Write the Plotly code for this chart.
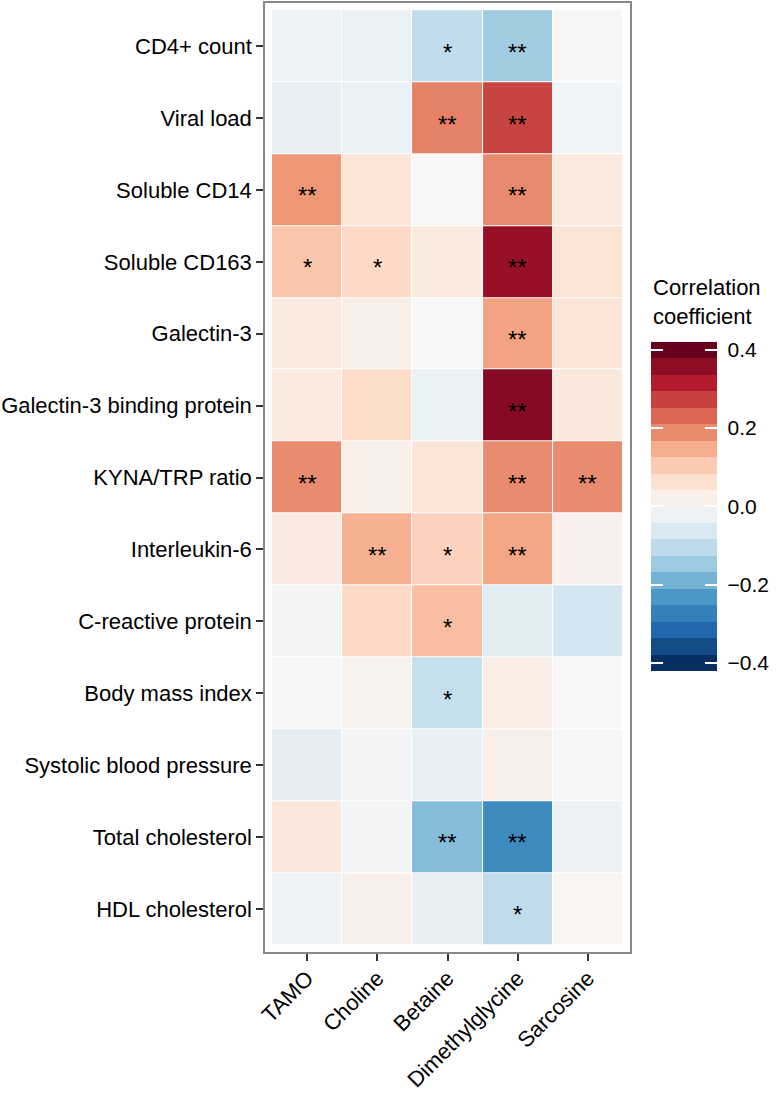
import numpy as np
import plotly.graph_objs as go

metabolites = ["TAMO", "Choline", "Betaine", "Dimethylglycine", "Sarcosine"]
markers = ["CD4+ count", "Viral load", "Soluble CD14", "Soluble CD163", "Galectin-3",
           "Galectin-3 binding protein", "KYNA/TRP ratio", "Interleukin-6",
           "C-reactive protein", "Body mass index", "Systolic blood pressure",
           "Total cholesterol", "HDL cholesterol"]

# correlation coefficients, one list per marker (TAMO, Choline, Betaine, DMG, Sarcosine)
r_cd4 = [-0.020, -0.030, -0.105, -0.148, 0.003]
r_viral = [-0.038, -0.030, 0.212, 0.285, -0.015]
r_scd14 = [0.185, 0.054, 0.000, 0.201, 0.042]
r_scd163 = [0.118, 0.086, 0.042, 0.365, 0.060]
r_gal3 = [0.042, 0.024, 0.000, 0.170, 0.054]
r_gal3bp = [0.042, 0.082, -0.030, 0.385, 0.045]
r_kyna = [0.200, 0.025, 0.054, 0.200, 0.200]
r_il6 = [0.037, 0.149, 0.098, 0.165, 0.020]
r_crp = [-0.012, 0.086, 0.129, -0.049, -0.077]
r_bmi = [-0.005, 0.015, -0.100, 0.030, 0.000]
r_sbp = [-0.045, -0.012, -0.035, 0.025, -0.005]
r_tc = [0.045, -0.012, -0.181, -0.267, -0.027]
r_hdl = [-0.020, 0.025, -0.032, -0.107, 0.008]

# significance marks
s_cd4 = ["", "", "*", "**", ""]
s_viral = ["", "", "**", "**", ""]
s_scd14 = ["**", "", "", "**", ""]
s_scd163 = ["*", "*", "", "**", ""]
s_gal3 = ["", "", "", "**", ""]
s_gal3bp = ["", "", "", "**", ""]
s_kyna = ["**", "", "", "**", "**"]
s_il6 = ["", "**", "*", "**", ""]
s_crp = ["", "", "*", "", ""]
s_bmi = ["", "", "*", "", ""]
s_sbp = ["", "", "", "", ""]
s_tc = ["", "", "**", "**", ""]
s_hdl = ["", "", "", "*", ""]

z = [r_cd4, r_viral, r_scd14, r_scd163, r_gal3, r_gal3bp, r_kyna, r_il6,
     r_crp, r_bmi, r_sbp, r_tc, r_hdl]
stars = [s_cd4, s_viral, s_scd14, s_scd163, s_gal3, s_gal3bp, s_kyna, s_il6,
         s_crp, s_bmi, s_sbp, s_tc, s_hdl]

bar_ticks = [-0.4, -0.2, 0.0, 0.2, 0.4]
bar_labels = ["\u00a0\u22120.4", "\u00a0\u22120.2", "\u00a00.0", "\u00a00.2", "\u00a00.4"]

lim = 0.42
# ColorBrewer RdBu, blue (negative) -> red (positive)
brewer = ["#053061", "#2166ac", "#4393c3", "#92c5de", "#d1e5f0", "#f7f7f7",
          "#fddbc7", "#f4a582", "#d6604d", "#b2182b", "#67001f"]
cont_scale = [[i / 10, c] for i, c in enumerate(brewer)]

def hex_rgb(h):
    return [int(h[i:i + 2], 16) for i in (1, 3, 5)]

rgb = np.array([hex_rgb(c) for c in brewer], dtype=float)
pos = np.linspace(0, 1, len(brewer))
nbin = 20
step_scale = []
for i in range(nbin):
    t = i / (nbin - 1)
    c = [np.interp(t, pos, rgb[:, k]) for k in range(3)]
    col = "rgb(%d,%d,%d)" % tuple(round(v) for v in c)
    step_scale.append([i / nbin, col])
    step_scale.append([(i + 1) / nbin, col])

FONT = "Liberation Sans, Arial, sans-serif"
FS = 22
CB_X = 1.0584   # left edge of legend bar, in plot fractions
CB_Y = 0.4697

heat = go.Heatmap(
    z=z, x=metabolites, y=markers,
    colorscale=cont_scale, zmin=-lim, zmax=lim,
    xgap=1, ygap=1, showscale=False, hoverongaps=False,
)

# legend bar drawn from a stepped version of the same scale
bar = go.Scatter(
    x=[None], y=[None], mode="markers", showlegend=False, hoverinfo="skip",
    marker=dict(
        color=[0], cmin=-lim, cmax=lim, colorscale=step_scale, showscale=True,
        colorbar=dict(
            x=CB_X, xanchor="left", xpad=0,
            y=CB_Y, yanchor="middle", ypad=0,
            len=329, lenmode="pixels", thickness=66, outlinewidth=0,
            tickvals=bar_ticks, ticktext=bar_labels,
            ticks="inside", ticklen=12, tickwidth=2, tickcolor="white",
            tickfont=dict(size=21, color="black", family=FONT),
        ),
    ),
)

# transparent strip over the bar's left side, only to carry the left white ticks
bar_left = go.Scatter(
    x=[None], y=[None], mode="markers", showlegend=False, hoverinfo="skip",
    marker=dict(
        color=[0], cmin=-lim, cmax=lim,
        colorscale=[[0, "rgba(0,0,0,0)"], [1, "rgba(0,0,0,0)"]], showscale=True,
        colorbar=dict(
            x=CB_X, xanchor="left", xpad=0,
            y=CB_Y, yanchor="middle", ypad=0,
            len=329, lenmode="pixels", thickness=12, outlinewidth=0,
            tickvals=bar_ticks, showticklabels=False,
            ticks="inside", ticklen=12, tickwidth=2, tickcolor="white",
        ),
    ),
)

annots = []
for i, m in enumerate(markers):
    for j, met in enumerate(metabolites):
        if stars[i][j]:
            annots.append(dict(x=met, y=m, text=stars[i][j], showarrow=False,
                               yshift=-6, font=dict(size=24, color="black", family=FONT)))

# legend title
annots.append(dict(xref="paper", yref="paper", x=CB_X, y=0.6545,
                   xanchor="left", yanchor="bottom", align="left", showarrow=False,
                   text="Correlation<br>coefficient",
                   font=dict(size=22, color="black", family=FONT)))

fig = go.Figure(data=[heat, bar, bar_left])
fig.update_layout(
    width=783, height=1093,
    margin=dict(l=265, r=141, t=1, b=135),
    paper_bgcolor="white", plot_bgcolor="white",
    font=dict(family=FONT, size=FS, color="black"),
    annotations=annots,
    xaxis=dict(
        type="category", categoryorder="array", categoryarray=metabolites,
        range=[-0.6, 4.6], showgrid=False, zeroline=False,
        showline=True, mirror=True, linecolor="#888888", linewidth=1.5,
        ticks="outside", ticklen=7, tickwidth=1.5, tickcolor="#333333",
        tickangle=-45, ticklabelstandoff=-4,
        tickfont=dict(size=FS, color="black"),
    ),
    yaxis=dict(
        type="category", categoryorder="array", categoryarray=markers,
        range=[12.6, -0.6], showgrid=False, zeroline=False,
        showline=True, mirror=True, linecolor="#888888", linewidth=1.5,
        ticks="outside", ticklen=7, tickwidth=1.5, tickcolor="#333333",
        tickfont=dict(size=FS, color="black"),
    ),
)

fig.write_html("out.html", config={"displayModeBar": False},
               post_script="document.body.style.margin='0';")
